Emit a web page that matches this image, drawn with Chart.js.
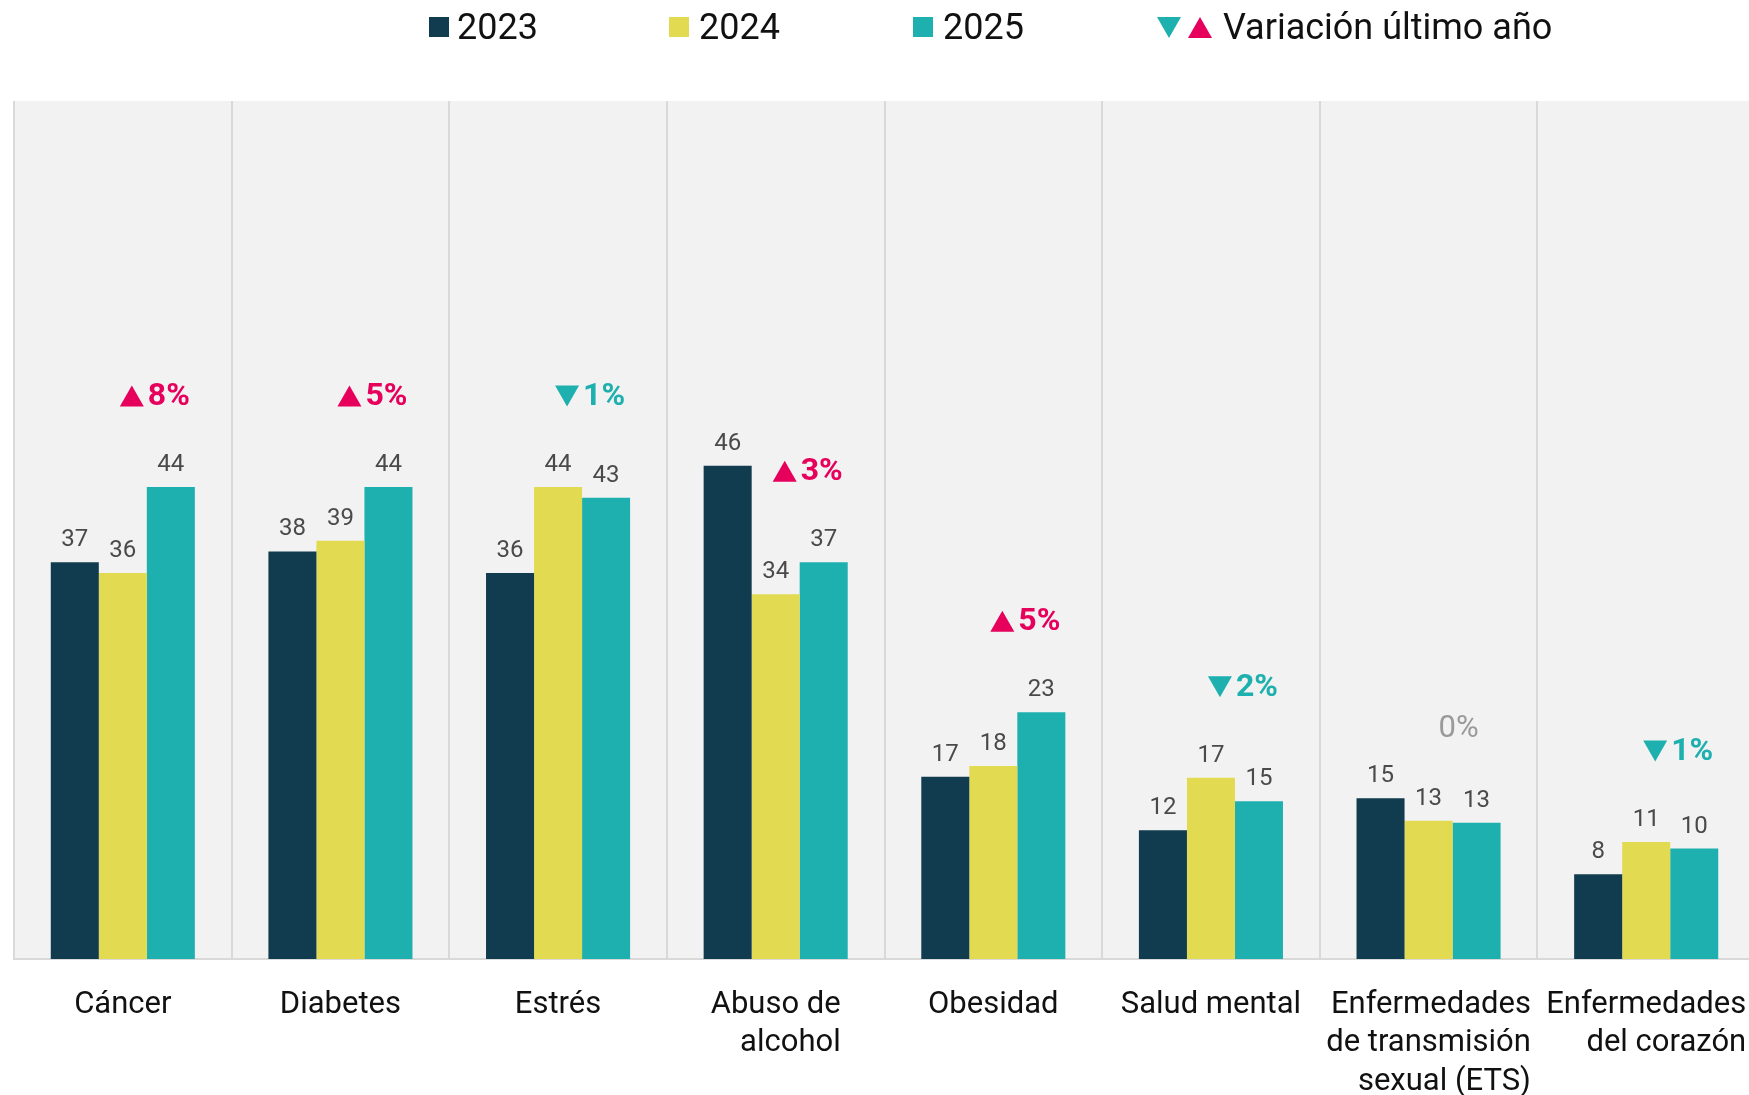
<!DOCTYPE html>
<html>
<head>
<meta charset="utf-8">
<script src="https://cdn.jsdelivr.net/npm/chart.js@4.4.1/dist/chart.umd.min.js"></script>
<style>
  html, body { margin:0; padding:0; background:#ffffff; overflow:hidden; width:1749px; height:1095px; }
  #wrap { position:absolute; left:0; top:0; width:1756px; height:1095px; }
  .lg { position:absolute; font-family: Roboto, "Noto Sans", sans-serif; font-size:36px; color:#111; line-height:36px; top:9px; white-space:nowrap; }
  .sq { position:absolute; width:20px; height:20px; top:17px; }
  .tri { position:absolute; width:24px; height:21px; top:17px; }
</style>
</head>
<body>
<div id="wrap"><canvas id="c"></canvas></div>
<div class="sq" style="left:429px;background:#113B4E"></div>
<div class="lg" style="left:457px">2023</div>
<div class="sq" style="left:669px;background:#E2DA50"></div>
<div class="lg" style="left:699px">2024</div>
<div class="sq" style="left:913px;background:#1EB0AE"></div>
<div class="lg" style="left:943px">2025</div>
<div class="tri" style="left:1157px;background:#1EB0AE;clip-path:polygon(0 0,100% 0,50% 100%)"></div>
<div class="tri" style="left:1188px;background:#E6005C;clip-path:polygon(50% 0,100% 100%,0 100%)"></div>
<div class="lg" style="left:1223px">Variación último año</div>
<script>
const categories = [["Cáncer"],["Diabetes"],["Estrés"],["Abuso de","alcohol"],["Obesidad"],["Salud mental"],["Enfermedades","de transmisión","sexual (ETS)"],["Enfermedades","del corazón"]];
const seriesLabels = ["2023","2024","2025"];
const values2023 = [37, 38, 36, 46, 17, 12, 15, 7.9];
const values2024 = [36, 39, 44, 34, 18, 16.9, 12.9, 10.9];
const values2025 = [44, 44, 43, 37, 23, 14.7, 12.7, 10.3];
const variation = [8, 5, -1, 3, 5, -2, 0, -1];
const seriesColors = ["#113B4E", "#E2DA50", "#1EB0AE"];

const FONT = 'Roboto, "Noto Sans", sans-serif';

const bgPlugin = {
  id: 'bg',
  beforeDraw(chart) {
    const {ctx, chartArea:a} = chart;
    ctx.save();
    ctx.fillStyle = '#F2F2F2';
    ctx.fillRect(a.left, a.top, a.right - a.left, a.bottom - a.top);
    ctx.restore();
  }
};

const labelPlugin = {
  id: 'labels',
  afterDatasetsDraw(chart) {
    const {ctx, chartArea:a} = chart;
    ctx.save();
    // value labels
    ctx.font = '24px ' + FONT;
    ctx.fillStyle = '#4a4a4a';
    ctx.textAlign = 'center';
    ctx.textBaseline = 'alphabetic';
    chart.data.datasets.forEach((ds, di) => {
      const meta = chart.getDatasetMeta(di);
      meta.data.forEach((bar, i) => {
        ctx.fillText(String(Math.round(ds.data[i])), bar.x, bar.y - 16);
      });
    });
    // variation labels
    const yScale = chart.scales.y;
    const m25 = chart.getDatasetMeta(2);
    variation.forEach((v, i) => {
      const bar = m25.data[i];
      const anchor = Math.max(values2024[i], values2025[i]);
      const y = yScale.getPixelForValue(anchor) - 91;
      const cx = bar.x - 2;
      const txt = Math.abs(v) + '%';
      if (v === 0) {
        ctx.font = '31px ' + FONT;
        ctx.fillStyle = '#9a9a9a';
        ctx.textAlign = 'center';
        ctx.textBaseline = 'middle';
        ctx.fillText(txt, cx - 16, y);
        return;
      }
      const col = v > 0 ? '#E6005C' : '#1EB0AE';
      ctx.font = 'bold 32px ' + FONT;
      ctx.fillStyle = col;
      ctx.textAlign = 'center';
      ctx.textBaseline = 'middle';
      const w = ctx.measureText(txt).width;
      ctx.fillText(txt, cx, y + 1);
      const tr = cx - w / 2 - 4;
      const tw = 24, th = 21;
      ctx.beginPath();
      if (v > 0) {
        ctx.moveTo(tr - tw / 2, y - th / 2);
        ctx.lineTo(tr, y + th / 2);
        ctx.lineTo(tr - tw, y + th / 2);
      } else {
        ctx.moveTo(tr - tw, y - th / 2);
        ctx.lineTo(tr, y - th / 2);
        ctx.lineTo(tr - tw / 2, y + th / 2);
      }
      ctx.closePath();
      ctx.fill();
    });
    // category labels (right-aligned multiline block centered)
    const xScale = chart.scales.x;
    ctx.font = '31px ' + FONT;
    ctx.fillStyle = '#111';
    ctx.textBaseline = 'middle';
    ctx.textAlign = 'right';
    categories.forEach((lines, i) => {
      const x = xScale.getPixelForValue(i);
      let maxW = 0;
      lines.forEach(l => { maxW = Math.max(maxW, ctx.measureText(l).width); });
      const right = x + maxW / 2;
      lines.forEach((l, li) => {
        ctx.fillText(l, right, a.bottom + 46 + li * 38.5);
      });
    });
    ctx.restore();
  }
};

new Chart(document.getElementById('c'), {
  type: 'bar',
  data: {
    labels: categories,
    datasets: [
      { label: seriesLabels[0], data: values2023, backgroundColor: seriesColors[0] },
      { label: seriesLabels[1], data: values2024, backgroundColor: seriesColors[1] },
      { label: seriesLabels[2], data: values2025, backgroundColor: seriesColors[2] }
    ]
  },
  options: {
    responsive: true,
    maintainAspectRatio: false,
    animation: false,
    layout: { padding: { left: 14, top: 101, right: 1, bottom: 136 } },
    datasets: { bar: { categoryPercentage: 0.662, barPercentage: 1.0, borderWidth: 0 } },
    plugins: { legend: { display: false }, tooltip: { enabled: false }, title: { display: false } },
    scales: {
      x: {
        offset: true,
        grid: { display: true, offset: true, color: '#D9D9D9', lineWidth: 2, drawTicks: false },
        border: { display: true, color: '#D9D9D9', width: 2 },
        ticks: { display: false }
      },
      y: {
        display: false,
        min: 0,
        max: 80
      }
    }
  },
  plugins: [bgPlugin, labelPlugin]
});
</script>
</body>
</html>
